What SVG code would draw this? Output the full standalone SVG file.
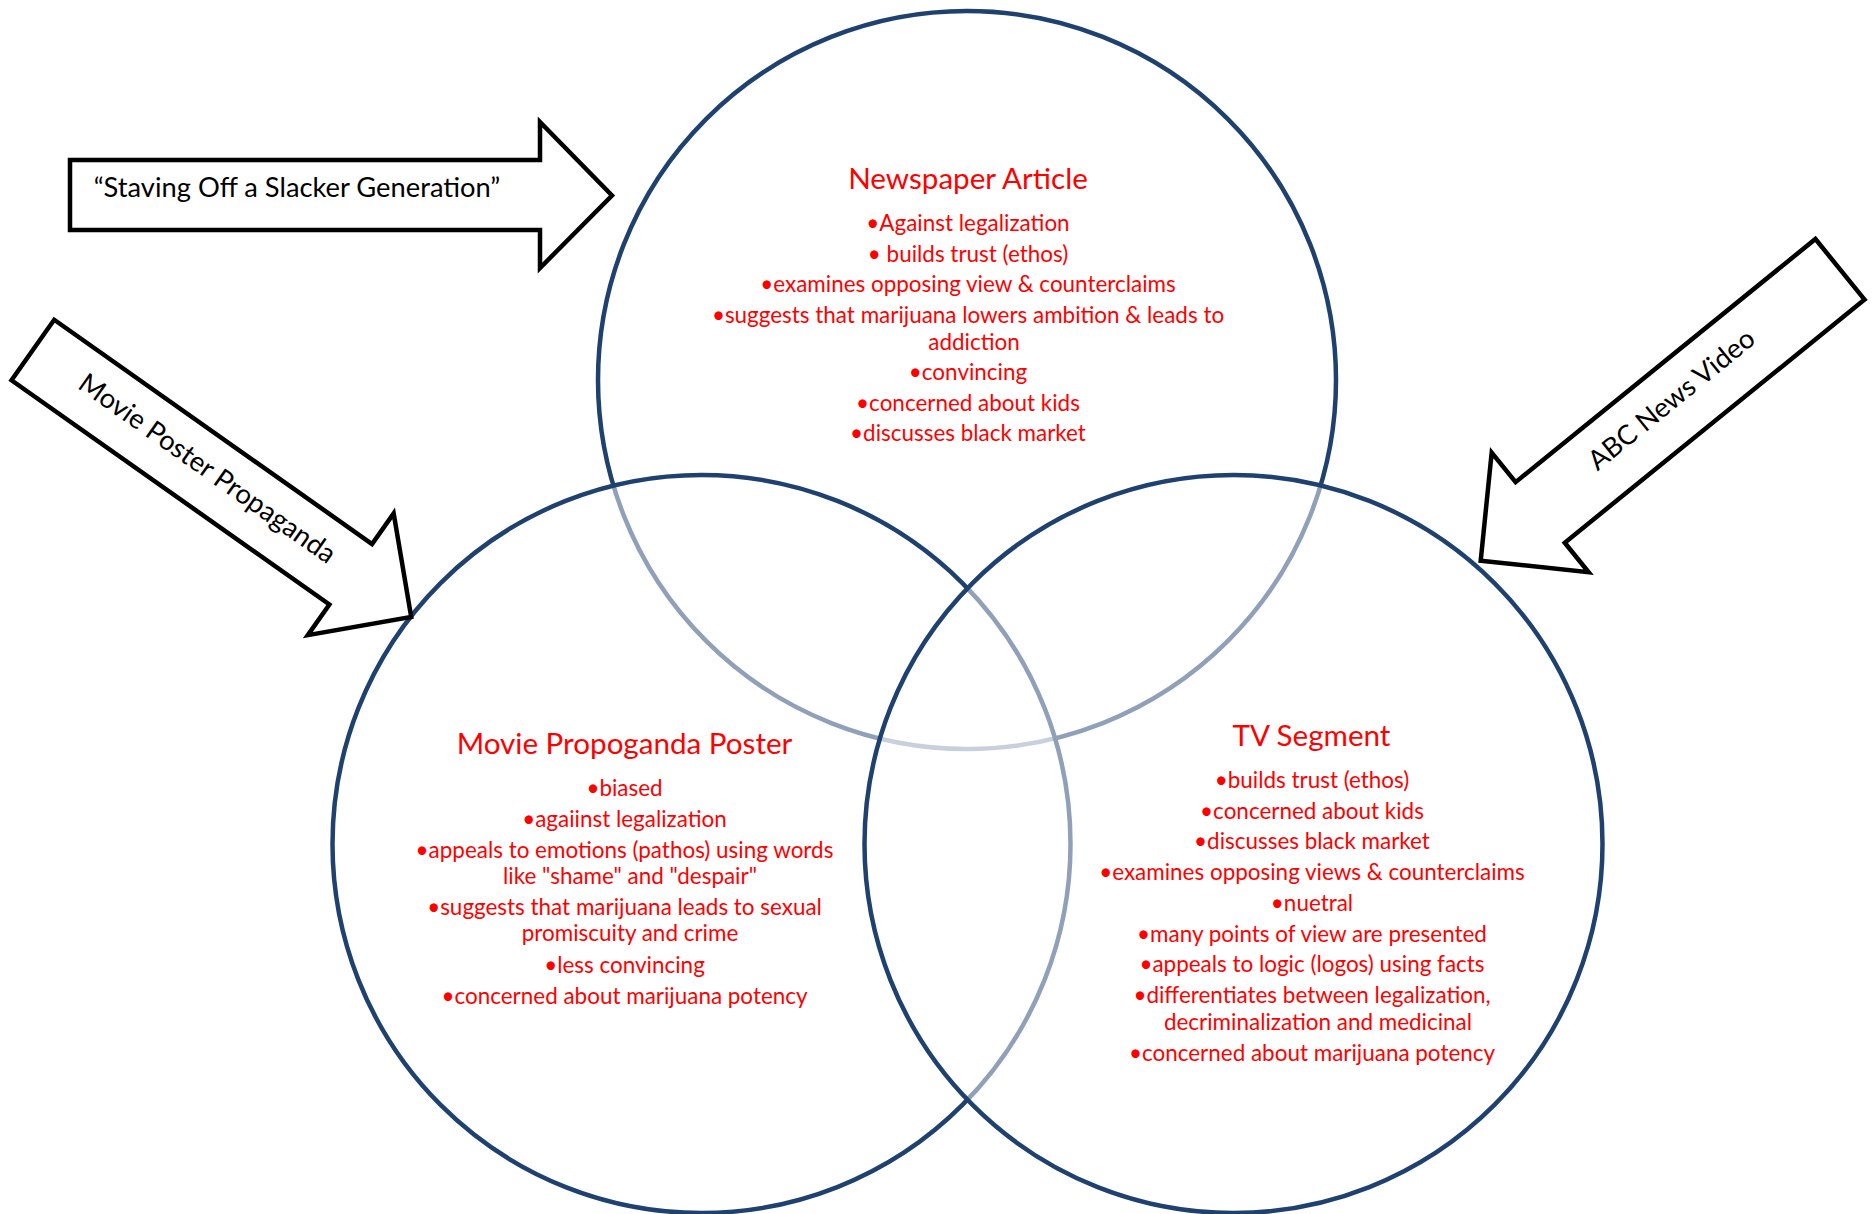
<svg xmlns="http://www.w3.org/2000/svg" width="1874" height="1214" viewBox="0 0 1874 1214">
  <style>
    .ring { fill: #ffffff; fill-opacity: 0.5; stroke: #1F4170; stroke-width: 4.5; }
    .title { font-family: Lato, "Liberation Sans", sans-serif; font-size: 29.6px; fill: #FF0000; text-anchor: middle; }
    .item { font-family: Lato, "Liberation Sans", sans-serif; font-size: 22.45px; fill: #FF0000; text-anchor: middle; }
    .block { fill: #ffffff; stroke: #000000; stroke-width: 4.5; stroke-linejoin: miter; }
    .label { font-family: Lato, "Liberation Sans", sans-serif; font-size: 27.3px; fill: #000000; text-anchor: middle; }
  </style>

  <rect width="1874" height="1214" fill="#ffffff"/>

  <!-- Venn set: top circle -->
  <g id="newspaper-article">
    <circle class="ring" cx="967" cy="380" r="369"/>
    <text class="title" x="968" y="189">Newspaper Article</text>
    <text class="item" x="968" y="231">•Against legalization</text>
    <text class="item" x="968" y="262">• builds trust (ethos)</text>
    <text class="item" x="968" y="292">•examines opposing view &amp; counterclaims</text>
    <text class="item" x="968" y="323">•suggests that marijuana lowers ambition &amp; leads to</text>
    <text class="item" x="974" y="350">addiction</text>
    <text class="item" x="968" y="380">•convincing</text>
    <text class="item" x="968" y="411">•concerned about kids</text>
    <text class="item" x="968" y="441">•discusses black market</text>
  </g>

  <!-- Venn set: lower-left circle -->
  <g id="movie-poster">
    <circle class="ring" cx="701.5" cy="844" r="369"/>
    <text class="title" x="624.5" y="754">Movie Propoganda Poster</text>
    <text class="item" x="624.5" y="796">•biased</text>
    <text class="item" x="624.5" y="827">•agaiinst legalization</text>
    <text class="item" x="624.5" y="858">•appeals to emotions (pathos) using words</text>
    <text class="item" x="630" y="884">like "shame" and "despair"</text>
    <text class="item" x="624.5" y="915">•suggests that marijuana leads to sexual</text>
    <text class="item" x="630" y="941">promiscuity and crime</text>
    <text class="item" x="624.5" y="973">•less convincing</text>
    <text class="item" x="624.5" y="1004">•concerned about marijuana potency</text>
  </g>

  <!-- Venn set: lower-right circle -->
  <g id="tv-segment">
    <circle class="ring" cx="1233.5" cy="844" r="369"/>
    <text class="title" x="1311.5" y="746">TV Segment</text>
    <text class="item" x="1312" y="788">•builds trust (ethos)</text>
    <text class="item" x="1312" y="819">•concerned about kids</text>
    <text class="item" x="1312" y="849">•discusses black market</text>
    <text class="item" x="1312" y="880">•examines opposing views &amp; counterclaims</text>
    <text class="item" x="1312" y="911">•nuetral</text>
    <text class="item" x="1312" y="942">•many points of view are presented</text>
    <text class="item" x="1312" y="972">•appeals to logic (logos) using facts</text>
    <text class="item" x="1312" y="1003">•differentiates between legalization,</text>
    <text class="item" x="1318" y="1030">decriminalization and medicinal</text>
    <text class="item" x="1312" y="1061">•concerned about marijuana potency</text>
  </g>

  <!-- Labelled block arrows pointing at the sets -->
  <g id="connectors">
    <g id="arrow-slacker-generation">
      <path class="block" d="M70,160 L540,160 L540,122 L612,195.5 L540,268 L540,230 L70,230 Z"/>
      <text class="label" x="297" y="197">“Staving Off a Slacker Generation”</text>
    </g>
    <g id="arrow-movie-poster" transform="translate(32.85,350) rotate(35.2)">
      <path class="block" d="M0,-37 L389,-37 L389,-74.5 L463,0 L389,74.5 L389,37 L0,37 Z"/>
      <text class="label" x="211" y="5.5">Movie Poster Propaganda</text>
    </g>
    <g id="arrow-abc-news" transform="translate(1840,269.3) rotate(140.96)">
      <path class="block" d="M0,-39 L386,-39 L386,-77 L462.6,0 L386,77 L386,39 L0,39 Z"/>
      <text class="label" transform="translate(213,-4.3) rotate(180)">ABC News Video</text>
    </g>
  </g>
</svg>
